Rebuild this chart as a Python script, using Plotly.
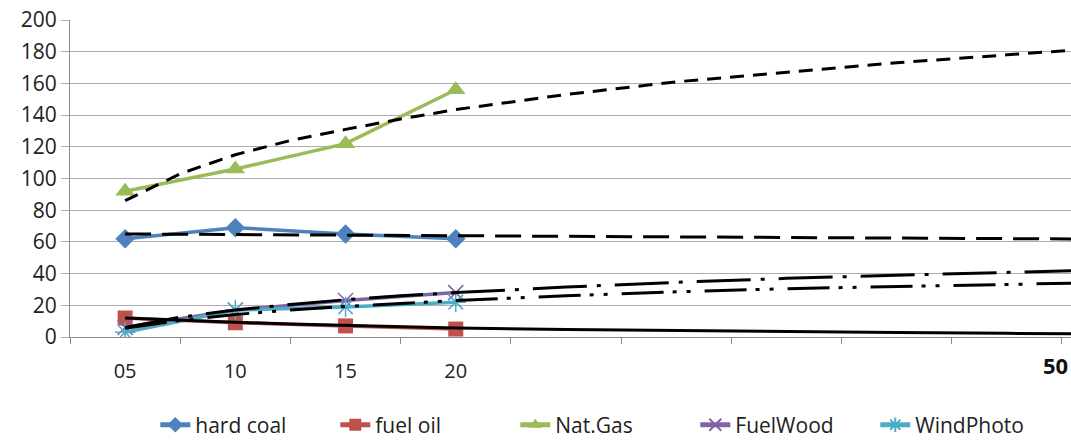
import plotly.graph_objects as go

# Observed values per category year
years = [2005, 2010, 2015, 2020]
hard_coal = [62, 69, 65, 62]
fuel_oil = [12, 9, 7, 5]
nat_gas = [92, 106, 122, 156]
fuel_wood = [6, 17, 23, 28]
wind_photo = [3, 17, 19, 22]

# Projected trend curves, sampled along the time axis
trend_years = [2005, 2007.5, 2010, 2012.5, 2015, 2017.5, 2020, 2025, 2030, 2035, 2040, 2045, 2050]
trend_gas = [86, 103, 115, 124, 131, 137.5, 143.5, 153, 161, 167, 173, 178, 183]
trend_coal = [65, 64.8, 64.7, 64.5, 64.4, 64.2, 64.1, 63.7, 63.3, 62.9, 62.5, 62.1, 61.7]
trend_oil = [12, 10.5, 9.3, 8.2, 7.3, 6.4, 5.7, 4.8, 4.0, 3.3, 2.8, 2.3, 1.9]
trend_wood = [6, 12.5, 17, 20.5, 23.5, 26, 28, 31.5, 34.5, 37, 39, 41, 42.5]
trend_wind = [5.5, 10.5, 14.2, 17, 19.3, 21.3, 23, 26, 28.5, 30.5, 32, 33.3, 34.5]

tick_years = [2005, 2010, 2015, 2020]
tick_labels = ["05", "10", "15", "20"]
end_label = "50"

FONT = "Open Sans"
GRID = "#ADADAD"
AXIS = "#8C8C8C"

fig = go.Figure()

series = [
    ("hard coal", hard_coal, "#4F81BD", dict(symbol="diamond", size=15)),
    ("fuel oil", fuel_oil, "#C0504D", dict(symbol="square", size=15)),
    ("Nat.Gas", nat_gas, "#9BBB59", dict(symbol="triangle-up", size=17)),
    ("FuelWood", fuel_wood, "#8064A2",
     dict(symbol="x-thin-open", size=15, line=dict(width=1.5, color="#8064A2"))),
    ("WindPhoto", wind_photo, "#4BACC6",
     dict(symbol="asterisk-open", size=17, line=dict(width=1.5, color="#4BACC6"))),
]
for name, vals, color, mk in series:
    fig.add_trace(go.Scatter(
        x=years, y=vals, name=name, mode="lines+markers",
        line=dict(color=color, width=3.5),
        marker=dict(color=color, **mk),
    ))

trends = [
    (trend_gas, "14px,9px"),
    (trend_coal, "26px,11px"),
    (trend_oil, "solid"),
    (trend_wood, "54px,10px,4px,14px"),
    (trend_wind, "42px,9px,4px,10px,4px,14px"),
]
for vals, dash in trends:
    fig.add_trace(go.Scatter(
        x=trend_years, y=vals, mode="lines", showlegend=False,
        line=dict(color="black", width=3, dash=dash),
        hoverinfo="skip",
    ))

fig.update_layout(
    width=1071, height=440,
    margin=dict(l=70, r=0, t=20, b=103),
    paper_bgcolor="white", plot_bgcolor="white",
    font=dict(family=FONT, size=20, color="#222222"),
    legend=dict(
        orientation="h", xref="container", yref="container",
        x=0.145, y=0.034, xanchor="left", yanchor="middle",
        font=dict(size=21), itemsizing="constant", traceorder="normal",
        entrywidth=135, entrywidthmode="pixels",
    ),
    annotations=[dict(
        text=f"<b>{end_label}</b>", xref="paper", yref="paper",
        x=0.999, y=-0.088, xanchor="right", yanchor="middle",
        showarrow=False, font=dict(size=22, color="#111111"),
    )],
)
fig.update_xaxes(
    range=[2002.5, 2047.91],
    tickmode="array", tickvals=tick_years, ticktext=tick_labels,
    ticks="outside", ticklen=16, tickcolor="rgba(0,0,0,0)",
    minor=dict(tick0=2002.5, dtick=5, ticks="outside", ticklen=6,
               tickcolor=AXIS, showgrid=False),
    showgrid=False, zeroline=False,
    showline=True, linecolor=AXIS, linewidth=1,
    tickfont=dict(size=20),
)
fig.update_yaxes(
    range=[0, 200], dtick=20, tick0=0,
    showgrid=True, gridcolor=GRID, gridwidth=1,
    ticks="outside", ticklen=8, tickcolor=GRID,
    zeroline=False, showline=True, linecolor=AXIS, linewidth=1,
    tickfont=dict(size=21),
)

fig.write_html("out.html")
